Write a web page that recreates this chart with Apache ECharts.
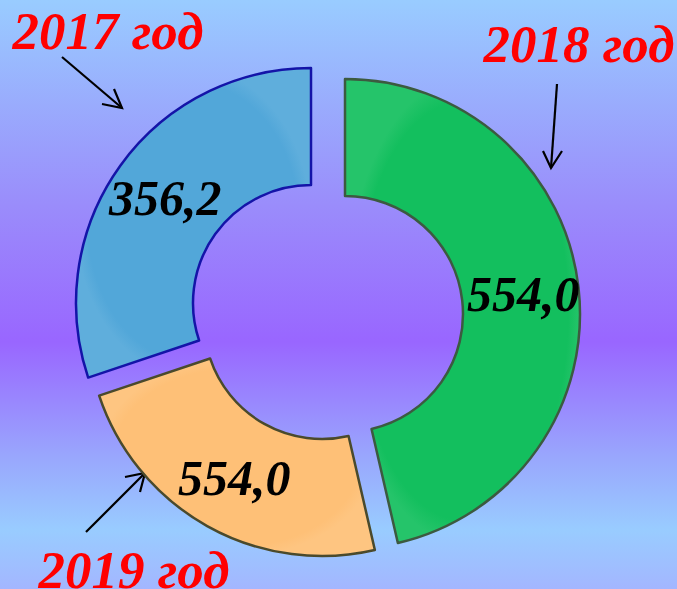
<!DOCTYPE html>
<html>
<head>
<meta charset="utf-8">
<script src="https://cdn.jsdelivr.net/npm/echarts@6/dist/echarts.min.js"></script>
<style>
  html, body { margin: 0; padding: 0; }
  #chart {
    width: 677px;
    height: 589px;
    background: linear-gradient(to bottom, #99ccff 0%, #9a8cfb 35%, #9966ff 58%, #99a8fd 78%, #99ccff 90%, #a3b6ff 100%);
  }
</style>
</head>
<body>
<div id="chart"></div>
<script>
  // годы (порядок по часовой стрелке от 12 часов)
  const years = ['2018 год', '2019 год', '2017 год']
  // доли секторов, прочитанные по углам на рисунке (градусы)
  const shares = [167, 84.5, 108.5]
  // подписи значений внутри секторов
  const valueLabels = ['554,0', '554,0', '356,2']

  const fills = ['#13bf5e', '#fec077', '#52a7d9']
  const borders = ['#3c5a40', '#4a4a2c', '#1414a8']
  // сектора "выдвинуты" – у каждого свой центр
  const sliceCenters = [[345, 314], [322, 321], [311, 303]]

  const chart = echarts.init(document.getElementById('chart'), null, { renderer: 'svg' })

  // подписи годов и стрелки
  const yearPos = [[579, 44], [134, 570], [108, 31]]
  const arrows = [
    { line: [[557, 84], [551, 168]], head: [[543, 151], [551, 168], [562, 151]] },
    { line: [[86, 532], [145, 473]], head: [[125, 477], [145, 473], [140, 492]] },
    { line: [[62, 57], [122, 108]], head: [[102, 104], [122, 108], [114, 89]] }
  ]

  const graphic = []
  years.forEach((y, i) => {
    graphic.push({
      type: 'text',
      x: yearPos[i][0],
      y: yearPos[i][1],
      style: {
        text: y,
        fill: '#ff0000',
        font: 'italic bold 53px "Liberation Serif", "DejaVu Serif", serif',
        align: 'center',
        verticalAlign: 'middle'
      }
    })
    graphic.push({
      type: 'polyline',
      shape: { points: arrows[i].line },
      style: { stroke: '#000', lineWidth: 2.2, fill: null }
    })
    graphic.push({
      type: 'polyline',
      shape: { points: arrows[i].head },
      style: { stroke: '#000', lineWidth: 2.2, fill: null }
    })
  })

  // по одной серии на сектор: видим только свой сектор
  const series = years.map((yr, k) => ({
    type: 'pie',
    center: sliceCenters[k],
    radius: [118, 235],
    startAngle: 90,
    clockwise: true,
    silent: true,
    avoidLabelOverlap: false,
    emphasis: { disabled: true },
    labelLine: { show: false },
    label: {
      show: true,
      position: 'inside',
      formatter: p => valueLabels[p.dataIndex],
      color: '#000',
      fontSize: 50,
      fontWeight: 'bold',
      fontStyle: 'italic',
      fontFamily: '"Liberation Serif", "DejaVu Serif", serif'
    },
    data: shares.map((v, i) => i === k ? {
      name: years[i],
      value: v,
      itemStyle: {
        color: {
          type: 'radial', x: 0.5, y: 0.5, r: 0.5,
          colorStops: [
            { offset: 0.5, color: fills[i] },
            { offset: 0.9, color: fills[i] },
            { offset: 1, color: echarts.color.lift(fills[i], 0.08) }
          ]
        },
        borderColor: borders[i],
        borderWidth: 2.5
      }
    } : {
      name: years[i],
      value: v,
      itemStyle: { color: 'transparent', borderWidth: 0 },
      label: { show: false }
    })
  }))

  chart.setOption({
    animation: false,
    graphic: graphic,
    series: series
  })
</script>
</body>
</html>
